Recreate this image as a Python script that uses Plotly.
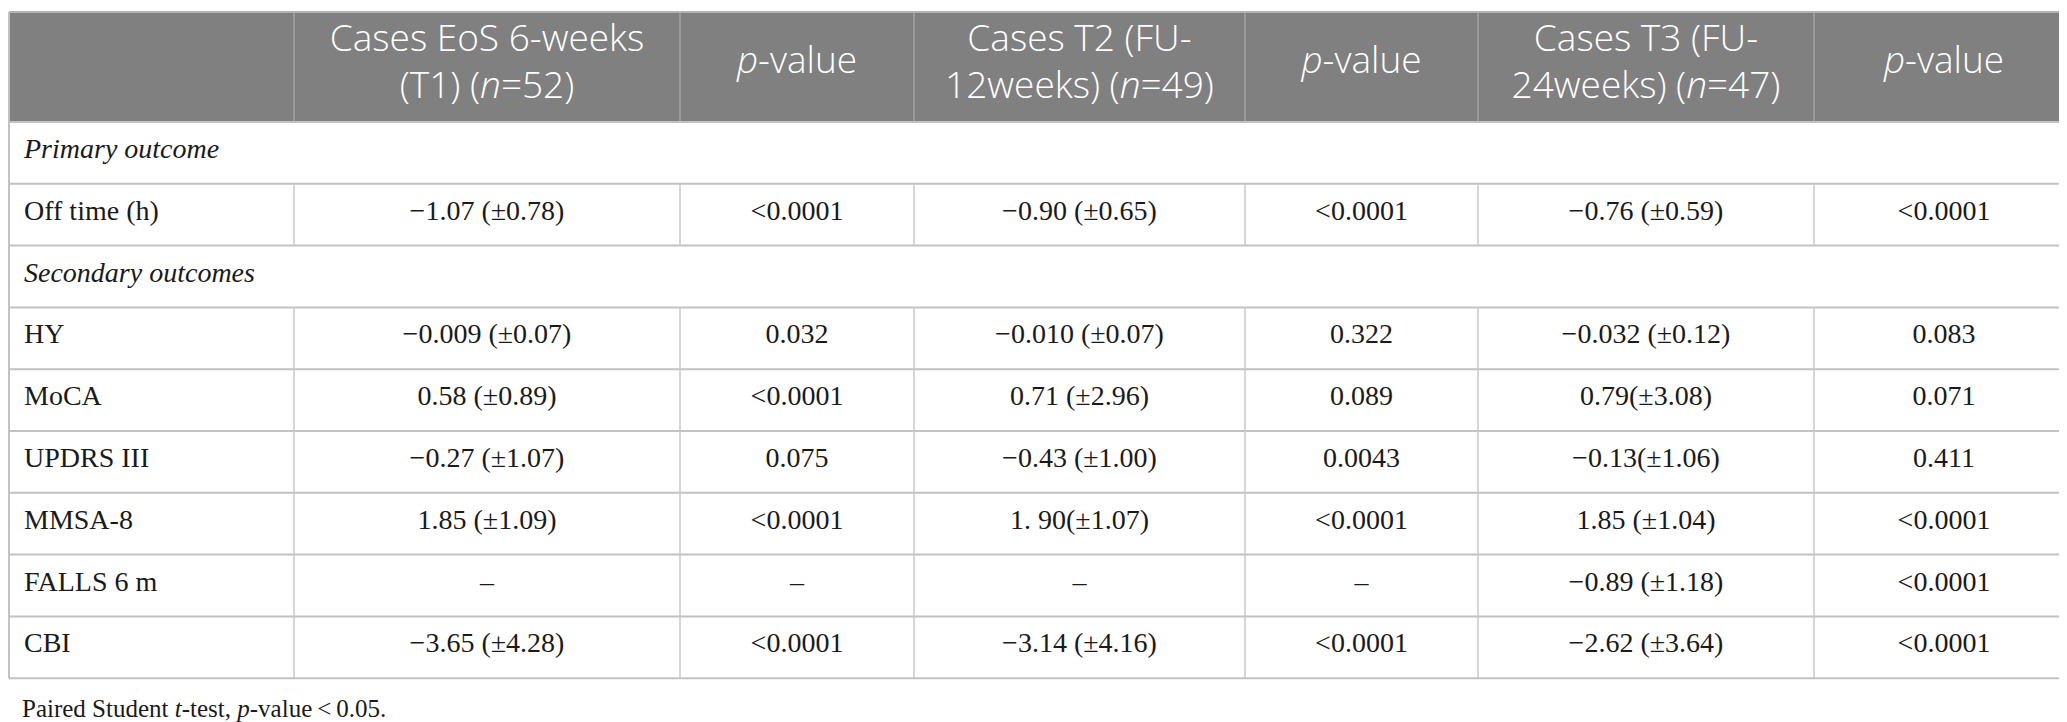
import plotly.graph_objects as go

# ---------------- data ----------------
outcomes = ["Off time (h)", "HY", "MoCA", "UPDRS III", "MMSA-8", "FALLS 6 m", "CBI"]
sections = ["Primary outcome", "Secondary outcomes"]
section_starts = [0, 1]  # outcome index at which each section begins

header_line1 = ["", "Cases EoS 6-weeks", "<i>p</i>-value", "Cases T2 (FU-", "<i>p</i>-value",
                "Cases T3 (FU-", "<i>p</i>-value"]
header_line2 = ["", "(T1) (<i>n</i>=52)", "", "12weeks) (<i>n</i>=49)", "",
                "24weeks) (<i>n</i>=47)", ""]

t1_values = ["−1.07 (±0.78)", "−0.009 (±0.07)", "0.58 (±0.89)", "−0.27 (±1.07)",
             "1.85 (±1.09)", "–", "−3.65 (±4.28)"]
t1_pvalues = ["<0.0001", "0.032", "<0.0001", "0.075", "<0.0001", "–", "<0.0001"]
t2_values = ["−0.90 (±0.65)", "−0.010 (±0.07)", "0.71 (±2.96)", "−0.43 (±1.00)",
             "1. 90(±1.07)", "–", "−3.14 (±4.16)"]
t2_pvalues = ["<0.0001", "0.322", "0.089", "0.0043", "<0.0001", "–", "<0.0001"]
t3_values = ["−0.76 (±0.59)", "−0.032 (±0.12)", "0.79(±3.08)", "−0.13(±1.06)",
             "1.85 (±1.04)", "−0.89 (±1.18)", "−2.62 (±3.64)"]
t3_pvalues = ["<0.0001", "0.083", "0.071", "0.411", "<0.0001", "<0.0001", "<0.0001"]

footnote = "Paired Student <i>t</i>-test, <i>p</i>-value\u2009<\u20090.05."

# ---------------- layout constants ----------------
W, H = 2067, 722
col_edges = [1, 286, 672, 906, 1237, 1470, 1806, 2066]
top = 4
header_bottom = 114
row_h = 61.8
pad = 15
text_dy = -2

SERIF = "Liberation Serif"
SANS = "Open Sans"
TXT = "#1a1a1a"
HEAD_FILL = "#808080"
HEAD_SEP = "#a3a3a3"
GRID_H = "#c2c2c2"
GRID_V = "#c8c8c8"

# build row order
rows = []
for i, name in enumerate(outcomes):
    if i in section_starts:
        rows.append(("section", sections[section_starts.index(i)]))
    rows.append(("data", i))
n_rows = len(rows)
bottom = header_bottom + n_rows * row_h
row_tops = [header_bottom + k * row_h for k in range(n_rows)]
row_mid = [t + row_h / 2 + text_dy for t in row_tops]

col_centers = [(col_edges[k] + col_edges[k + 1]) / 2 for k in range(len(col_edges) - 1)]

fig = go.Figure()
shapes = []

# header background
shapes.append(dict(type="rect", xref="x", yref="y", x0=col_edges[0], x1=col_edges[-1],
                   y0=top, y1=header_bottom, fillcolor=HEAD_FILL, line=dict(width=0), layer="below"))
# header separators
for xe in col_edges[1:-1]:
    shapes.append(dict(type="line", xref="x", yref="y", x0=xe, x1=xe, y0=top, y1=header_bottom,
                       line=dict(color=HEAD_SEP, width=1.5)))
# top border
shapes.append(dict(type="line", xref="x", yref="y", x0=col_edges[0], x1=col_edges[-1], y0=top, y1=top,
                   line=dict(color="#b3b3b3", width=2)))
# horizontal grid lines
for k in range(n_rows + 1):
    yy = header_bottom + k * row_h
    shapes.append(dict(type="line", xref="x", yref="y", x0=col_edges[0], x1=col_edges[-1], y0=yy, y1=yy,
                       line=dict(color=GRID_H, width=2)))
# outer left/right borders
for xe in (col_edges[0], col_edges[-1]):
    shapes.append(dict(type="line", xref="x", yref="y", x0=xe, x1=xe, y0=top, y1=bottom,
                       line=dict(color=GRID_H, width=2)))
# inner vertical lines on data rows only
for k, (kind, _) in enumerate(rows):
    if kind != "data":
        continue
    for xe in col_edges[1:-1]:
        shapes.append(dict(type="line", xref="x", yref="y", x0=xe, x1=xe,
                           y0=row_tops[k], y1=row_tops[k] + row_h,
                           line=dict(color=GRID_V, width=1.5)))

# header text
hx1, hy1, ht1, hx2, hy2, ht2 = [], [], [], [], [], []
for c in range(1, len(header_line1)):
    if header_line2[c]:
        hx1.append(col_centers[c]); hy1.append(34); ht1.append(header_line1[c])
        hx2.append(col_centers[c]); hy2.append(81); ht2.append(header_line2[c])
    else:
        hx1.append(col_centers[c]); hy1.append(56); ht1.append(header_line1[c])
for xs, ys, ts in ((hx1, hy1, ht1), (hx2, hy2, ht2)):
    fig.add_trace(go.Scatter(x=xs, y=ys, text=ts, mode="text", textposition="middle center",
                             textfont=dict(family=SANS, size=37, color="white", weight=300),
                             hoverinfo="skip", showlegend=False))

# section labels and row labels
sx, sy, st, lx, ly, lt = [], [], [], [], [], []
for k, (kind, v) in enumerate(rows):
    if kind == "section":
        sx.append(col_edges[0] + pad); sy.append(row_mid[k]); st.append("<i>" + v + "</i>")
    else:
        lx.append(col_edges[0] + pad); ly.append(row_mid[k]); lt.append(outcomes[v])
fig.add_trace(go.Scatter(x=sx + lx, y=sy + ly, text=st + lt, mode="text", textposition="middle right",
                         textfont=dict(family=SERIF, size=28, color=TXT),
                         hoverinfo="skip", showlegend=False))

# value columns
columns = [t1_values, t1_pvalues, t2_values, t2_pvalues, t3_values, t3_pvalues]
vx, vy, vt = [], [], []
for c, colvals in enumerate(columns, start=1):
    for k, (kind, v) in enumerate(rows):
        if kind == "data":
            vx.append(col_centers[c]); vy.append(row_mid[k]); vt.append(colvals[v])
fig.add_trace(go.Scatter(x=vx, y=vy, text=vt, mode="text", textposition="middle center",
                         textfont=dict(family=SERIF, size=28, color=TXT),
                         hoverinfo="skip", showlegend=False))

# footnote
fig.add_trace(go.Scatter(x=[col_edges[0] + 13], y=[703], text=[footnote], mode="text",
                         textposition="middle right",
                         textfont=dict(family=SERIF, size=25, color=TXT),
                         hoverinfo="skip", showlegend=False))

fig.update_layout(
    width=W, height=H,
    margin=dict(l=0, r=0, t=0, b=0),
    paper_bgcolor="white", plot_bgcolor="white",
    xaxis=dict(range=[0, W], visible=False, fixedrange=True),
    yaxis=dict(range=[H, 0], visible=False, fixedrange=True),
    shapes=shapes,
)

fig.write_html("out.html")
